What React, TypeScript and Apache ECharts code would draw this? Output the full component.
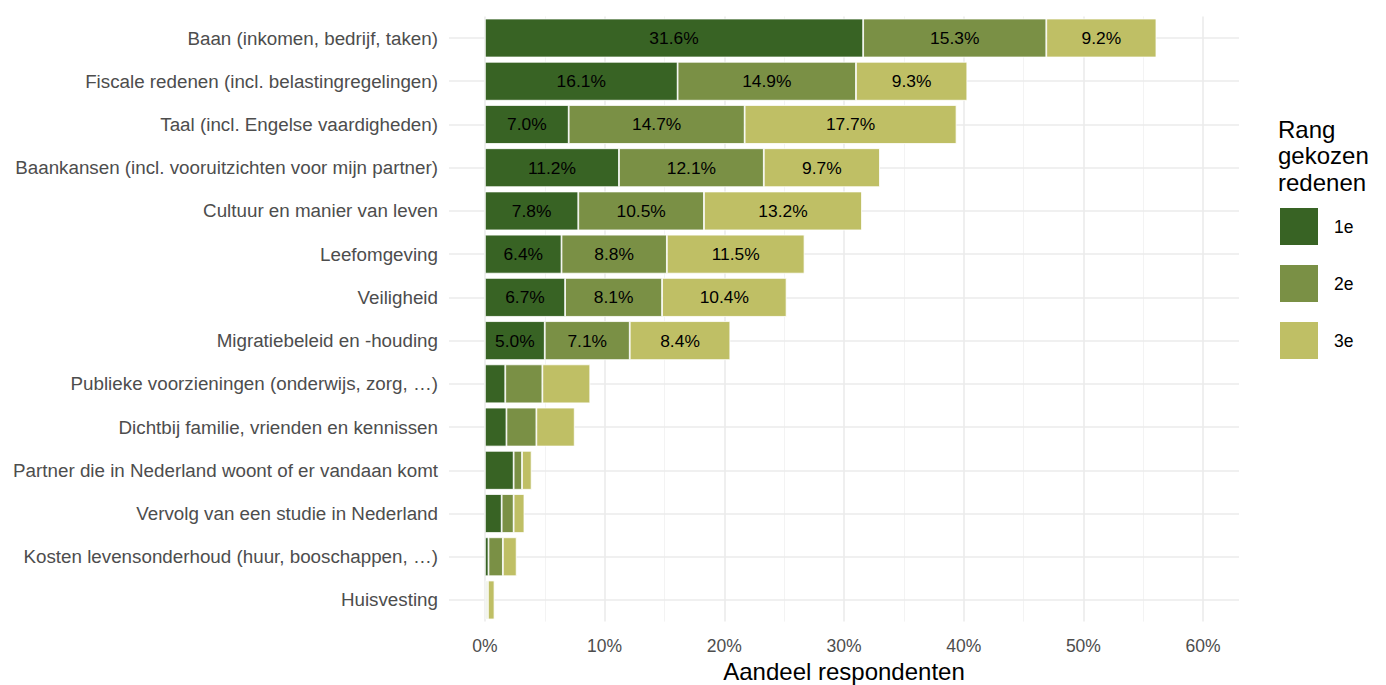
import React, { useEffect, useRef } from "react";
import * as echarts from "echarts";

const categories = [
  "Baan (inkomen, bedrijf, taken)",
  "Fiscale redenen (incl. belastingregelingen)",
  "Taal (incl. Engelse vaardigheden)",
  "Baankansen (incl. vooruitzichten voor mijn partner)",
  "Cultuur en manier van leven",
  "Leefomgeving",
  "Veiligheid",
  "Migratiebeleid en -houding",
  "Publieke voorzieningen (onderwijs, zorg, …)",
  "Dichtbij familie, vrienden en kennissen",
  "Partner die in Nederland woont of er vandaan komt",
  "Vervolg van een studie in Nederland",
  "Kosten levensonderhoud (huur, booschappen, …)",
  "Huisvesting",
];
const rank1 = [31.6, 16.1, 7.0, 11.2, 7.8, 6.4, 6.7, 5.0, 1.7, 1.8, 2.4, 1.4, 0.3, 0.1];
const rank2 = [15.3, 14.9, 14.7, 12.1, 10.5, 8.8, 8.1, 7.1, 3.1, 2.5, 0.7, 1.0, 1.2, 0.15];
const rank3 = [9.2, 9.3, 17.7, 9.7, 13.2, 11.5, 10.4, 8.4, 4.0, 3.2, 0.8, 0.9, 1.15, 0.55];
const seriesNames = ["1e", "2e", "3e"];
const colors = ["#386324", "#7a9045", "#bfbf65"];
const xTicks = [0, 10, 20, 30, 40, 50, 60];
const xMinor = [5, 15, 25, 35, 45, 55];

const FONT = "'Liberation Sans', Arial, sans-serif";

export default function App() {
  const ref = useRef<HTMLDivElement>(null);
  useEffect(() => {
    document.body.style.margin = "0";
    const chart = echarts.init(ref.current!, null, { renderer: "svg" });
    const values = [rank1, rank2, rank3];
    const barSeries = values.map((vals, i) => ({
      name: seriesNames[i],
      type: "bar",
      stack: "total",
      barWidth: "90%",
      z: 3,
      data: vals,
      itemStyle: { color: colors[i], borderColor: "#ffffff", borderWidth: 0.8 },
      label: {
        show: true,
        position: "inside",
        color: "#000000",
        fontSize: 17.4,
        fontFamily: FONT,
        formatter: (p: any) => (p.value >= 5 ? p.value.toFixed(1) + "%" : ""),
      },
    }));
    const gridSeries = {
      name: "grid",
      type: "line",
      data: [],
      z: 0,
      silent: true,
      markLine: {
        silent: true,
        z: 0,
        symbol: ["none", "none"],
        label: { show: false },
        animation: false,
        data: [
          ...xTicks.map((v) => ({ xAxis: v, lineStyle: { color: "#ebebeb", width: 1.6, type: "solid" } })),
          ...xMinor.map((v) => ({ xAxis: v, lineStyle: { color: "#f0f0f0", width: 0.8, type: "solid" } })),
          ...categories.map((c) => ({ yAxis: c, lineStyle: { color: "#ebebeb", width: 1.6, type: "solid" } })),
        ],
      },
    };
    chart.setOption({
      animation: false,
      textStyle: { fontFamily: FONT },
      grid: {
        left: 449,
        right: 147,
        top: 16.4,
        height: 605.2,
        containLabel: false,
        outerBoundsMode: "none",
      },
      xAxis: {
        type: "value",
        min: -3,
        max: 63,
        name: "Aandeel respondenten",
        nameLocation: "middle",
        nameGap: 37,
        nameTextStyle: { color: "#000000", fontSize: 24, fontFamily: FONT },
        axisLine: { show: false },
        axisTick: { show: false },
        splitLine: { show: false },
        axisLabel: {
          customValues: xTicks,
          color: "#4d4d4d",
          fontSize: 17.5,
          margin: 15,
          fontFamily: FONT,
          formatter: (v: number) => v + "%",
        },
      },
      yAxis: {
        type: "category",
        inverse: true,
        data: categories,
        axisLine: { show: false },
        axisTick: { show: false },
        splitLine: { show: false },
        axisLabel: { color: "#4d4d4d", fontSize: 18.8, margin: 11, fontFamily: FONT },
      },
      legend: {
        data: seriesNames,
        orient: "vertical",
        left: 1278,
        top: 206,
        padding: 0,
        itemWidth: 40,
        itemHeight: 39,
        itemGap: 16,
        icon: "rect",
        textStyle: { color: "#000000", fontSize: 17.5, fontFamily: FONT, padding: [0, 0, 0, 10] },
        selectedMode: false,
      },
      graphic: [
        {
          type: "text",
          left: 1278,
          top: 116,
          style: {
            text: "Rang\ngekozen\nredenen",
            fontSize: 24,
            lineHeight: 26.5,
            fill: "#000000",
            fontFamily: FONT,
          },
        },
      ],
      series: [gridSeries, ...barSeries],
    });
    return () => chart.dispose();
  }, []);
  return <div ref={ref} style={{ width: 1386, height: 685 }} />;
}
